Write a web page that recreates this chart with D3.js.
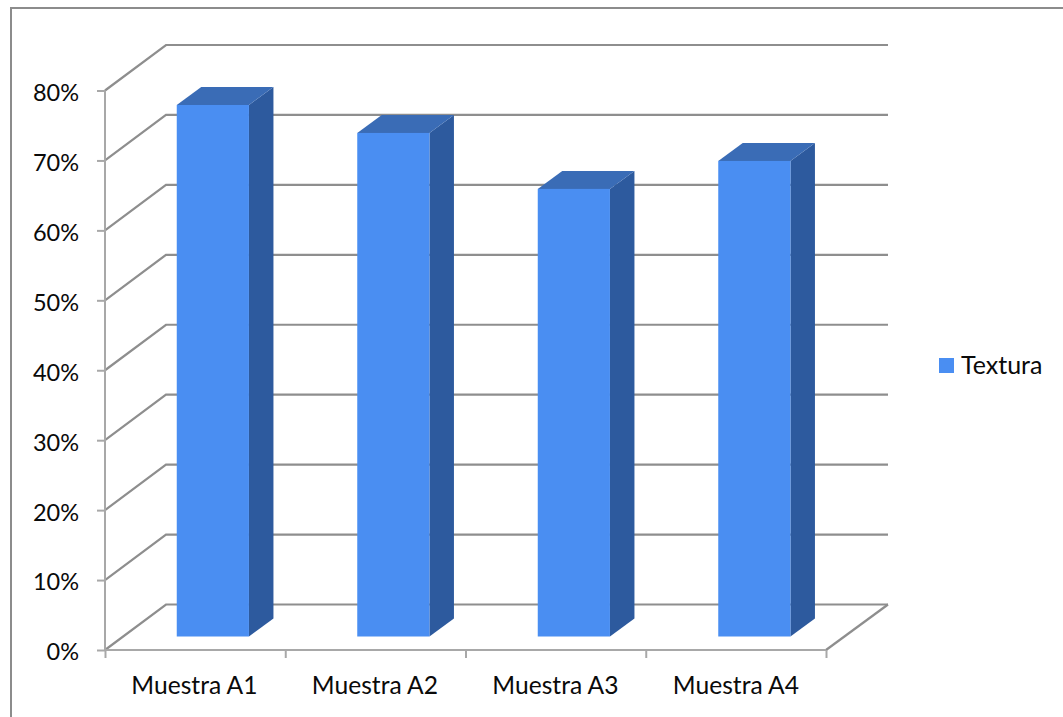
<!DOCTYPE html>
<html><head><meta charset="utf-8">
<script src="https://cdn.jsdelivr.net/npm/d3@7"></script>
<style>html,body{margin:0;padding:0;background:#fff;overflow:hidden}svg{display:block}text{font-family:Lato,"Open Sans",sans-serif;fill:#0a0a0a}</style>
</head><body><svg id="c" width="1063" height="717"></svg>
<script>
const categories=["Muestra A1","Muestra A2","Muestra A3","Muestra A4"];
const values=[0.76,0.72,0.64,0.68];
const yTicks=[0,0.1,0.2,0.3,0.4,0.5,0.6,0.7,0.8];
const seriesName="Textura";
const colors={front:"#4a8ef2",top:"#3a6cb6",side:"#2d5a9e",grid:"#8e8e8e",axis:"#a8a8a8",frame:"#8c8c8c"};

const svg=d3.select("#c");
const x=d3.scaleBand().domain(categories).range([105,827]).paddingInner(0.6).paddingOuter(0.3);
const y=d3.scaleLinear().domain([0,0.8]).range([650,90.5]);
const wallDx=61,wallDy=-45.5, wallRight=888;
const barDx=24.5,barDy=-18,barShiftX=17.6,barShiftY=-13.5;

// frame
svg.append("path").attr("d","M1063,8H11V717").attr("fill","none").attr("stroke",colors.frame).attr("stroke-width",2);

// grid: diagonal on side wall + horizontal on back wall
const grid=svg.append("g").attr("fill","none").attr("stroke",colors.grid).attr("stroke-width",2.2);
grid.selectAll("path").data(yTicks).join("path")
  .attr("d",d=>d3.line()([[105,y(d)],[105+wallDx,y(d)+wallDy],[wallRight,y(d)+wallDy]]));
grid.append("path").attr("d",d3.line()([[wallRight,y(0)+wallDy],[826,y(0)]]));

// axes
const fmt=d3.format(".0%");
const ay=svg.append("g").attr("transform","translate(105,0)")
  .call(d3.axisLeft(y).tickValues(yTicks).tickFormat(fmt).tickSize(8).tickPadding(18));
const ax=svg.append("g").attr("transform","translate(0,650)")
  .call(d3.axisBottom(d3.scalePoint().domain(d3.range(5)).range([105,826])).tickSize(8).tickFormat(""));
svg.selectAll(".domain").remove();
svg.append("path").attr("d",`M105,${y(0.8)}V${y(0)}H826`).attr("fill","none").attr("stroke",colors.axis).attr("stroke-width",2);
svg.selectAll(".tick line").attr("stroke",colors.axis).attr("stroke-width",2);
ay.selectAll("text").attr("font-size",23.5).attr("dy","0.42em").attr("x",-26).style("font-family","Lato");
svg.append("g").selectAll("text").data(categories).join("text")
  .attr("x",d=>x(d)+x.bandwidth()/2-0.8).attr("y",694).attr("text-anchor","middle").attr("font-size",24.6).text(d=>d);

// bars
const bars=svg.append("g").selectAll("g").data(categories.map((c,i)=>({c,v:values[i]}))).join("g");
const L=d=>x(d.c)+barShiftX, R=d=>L(d)+x.bandwidth(), B=()=>y(0)+barShiftY, T=d=>y(d.v)+barShiftY;
bars.append("path").attr("fill",colors.side)
  .attr("d",d=>d3.line()([[R(d),T(d)],[R(d)+barDx,T(d)+barDy],[R(d)+barDx,B()+barDy],[R(d),B()]]));
bars.append("path").attr("fill",colors.top)
  .attr("d",d=>d3.line()([[L(d),T(d)],[L(d)+barDx,T(d)+barDy],[R(d)+barDx,T(d)+barDy],[R(d),T(d)]]));
bars.append("rect").attr("fill",colors.front)
  .attr("x",L).attr("y",T).attr("width",x.bandwidth()).attr("height",d=>B()-T(d));

// legend
svg.append("rect").attr("x",939).attr("y",358).attr("width",15).attr("height",15).attr("fill",colors.front);
svg.append("text").attr("x",961).attr("y",374).attr("font-size",25).text(seriesName);
</script></body></html>
